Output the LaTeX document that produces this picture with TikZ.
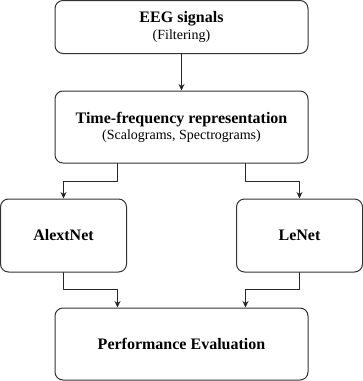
\documentclass[tikz,border=0pt]{standalone}
\usepackage{fontspec}
\setmainfont{Liberation Serif}
\usetikzlibrary{arrows.meta}
\begin{document}
\begin{tikzpicture}[>={Stealth[length=6.5pt,width=6pt]},line join=round,line cap=round,x=1pt,y=-1pt]
	\tikzset{box/.style={draw=black!80,line width=1pt,rounded corners=8pt,align=center,inner sep=0pt},
		ttl/.style={font=\fontsize{16}{19}\selectfont\bfseries},
		lnk/.style={->,draw=black!85,line width=.8pt}}
	\useasboundingbox (0,0) rectangle (363,381);
	\node[box,minimum width=253,minimum height=53] (eeg) at (181.5,27)
		{\fontsize{16}{19}\selectfont\bfseries EEG signals\\[2pt]\fontsize{14}{17}\selectfont (Filtering)};
	\node[box,minimum width=253,minimum height=72] (tf) at (181.5,127)
		{\fontsize{16}{19}\selectfont\bfseries Time-frequency representation\\[2pt]\fontsize{14}{17}\selectfont (Scalograms, Spectrograms)};
	\node[box,ttl,minimum width=126,minimum height=73] (alex) at (63.5,235.5) {AlextNet};
	\node[box,ttl,minimum width=126,minimum height=73] (lenet) at (299.5,235.5) {LeNet};
	\node[box,ttl,minimum width=253,minimum height=72] (perf) at (181.5,344) {Performance Evaluation};
	\draw[lnk] (eeg) -- (tf);
	\draw[lnk] ([xshift=-64pt]tf.south) -- ++(0,18) -| (alex);
	\draw[lnk] ([xshift=64pt]tf.south) -- ++(0,18) -| (lenet);
	\draw[lnk] (alex.south) -- ++(0,17) -| ([xshift=-64pt]perf.north);
	\draw[lnk] (lenet.south) -- ++(0,17) -| ([xshift=64pt]perf.north);
\end{tikzpicture}
\end{document}
